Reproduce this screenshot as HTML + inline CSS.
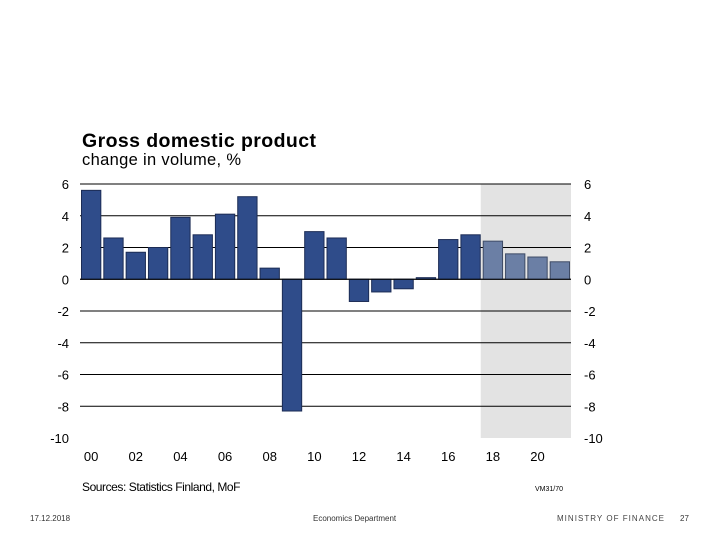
<!DOCTYPE html>
<html><head><meta charset="utf-8"><style>
body{margin:0;width:720px;height:540px;background:#fff;overflow:hidden;font-family:"Liberation Sans",sans-serif;}
svg{position:absolute;left:0;top:0}
</style></head><body>
<svg width="720" height="540" id="chart">
<text x="82" y="147" font-size="19.5" font-weight="bold" fill="#000" textLength="234">Gross domestic product</text>
<text x="82" y="165" font-size="16.5" fill="#000" textLength="159">change in volume, %</text>
<text x="82" y="491" font-size="12" fill="#000" letter-spacing="-0.5" textLength="158">Sources: Statistics Finland, MoF</text>
<text x="535" y="491" font-size="7" fill="#000">VM31/70</text>
<text x="30" y="521" font-size="8" fill="#333">17.12.2018</text>
<text x="313" y="521" font-size="8" fill="#333">Economics Department</text>
<text x="557" y="521" font-size="8" fill="#444" textLength="107">MINISTRY OF FINANCE</text>
<text x="680" y="521" font-size="8" fill="#333">27</text>
<g id="plot"></g>
</svg>
<script>
const years=["00","01","02","03","04","05","06","07","08","09","10","11","12","13","14","15","16","17","18","19","20","21"];
const values=[5.6,2.6,1.7,2.0,3.9,2.8,4.1,5.2,0.7,-8.3,3.0,2.6,-1.4,-0.8,-0.6,0.1,2.5,2.8,2.4,1.6,1.4,1.1];
const forecastStart=18;
const yTicks=[6,4,2,0,-2,-4,-6,-8,-10];
const xLabels=["00","02","04","06","08","10","12","14","16","18","20"];
const NS="http://www.w3.org/2000/svg";
const g=document.getElementById('plot');
const L=80,R=571,yMin=-10,yMax=6,T=184,B=438;
const step=(R-L)/years.length;
const y=v=>T+(yMax-v)*(B-T)/(yMax-yMin);
const x=i=>L+i*step;
function mk(t,a){const e=document.createElementNS(NS,t);for(const k in a)e.setAttribute(k,a[k]);g.appendChild(e);return e;}
let sh=mk('rect',{x:x(forecastStart)-1,y:T,width:R-x(forecastStart)+1,height:B-T,fill:'#e3e3e3'});


yTicks.forEach(v=>{
  if(v>yMin){let l=mk('line',{x1:L,x2:R,y1:y(v),y2:y(v),stroke:'#000','stroke-width':1});
  
  }
  let t1=mk('text',{x:69,y:y(v)+5,'font-size':13,'text-anchor':'end'});t1.textContent=v;
  
  
  let t2=mk('text',{x:584,y:y(v)+5,'font-size':13});t2.textContent=v;
  
  
});
values.forEach((v,i)=>{
  const y0=y(0),y1=y(v);
  let r=mk('rect',{x:x(i)+1.5,y:Math.min(y0,y1),width:step-3,height:Math.abs(y1-y0),fill:i>=forecastStart?'#6b7fa5':'#2f4c8a',stroke:i>=forecastStart?'#3e4b66':'#1c2c55','stroke-width':1});
  
  
});
let z=mk('line',{x1:L,x2:R,y1:y(0),y2:y(0),stroke:'#000','stroke-width':1});


xLabels.forEach(lb=>{
  const i=years.indexOf(lb);
  let t=mk('text',{x:x(i)+step/2,y:461,'font-size':13,'text-anchor':'middle'});t.textContent=lb;
  
  
});
</script>
</body></html>
